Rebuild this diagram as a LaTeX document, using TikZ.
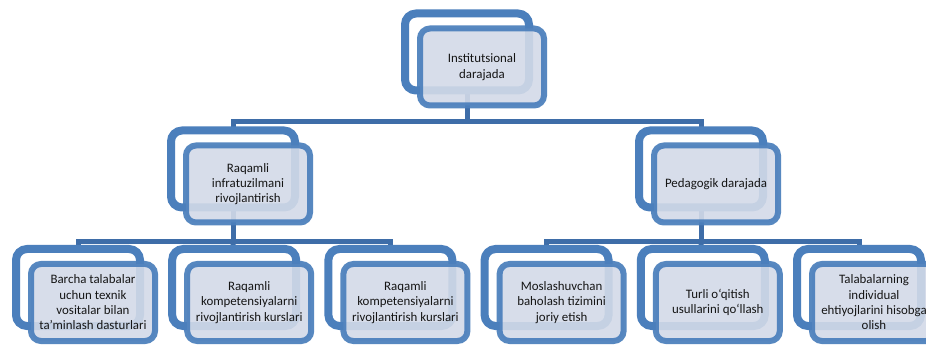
\documentclass[tikz,border=0pt]{standalone}
\usepackage{fontspec}
\setmainfont{Carlito}
\usetikzlibrary{shadows}
\definecolor{framec}{HTML}{4B7FBC}
\definecolor{boxfillc}{HTML}{D3DAE8}
\definecolor{connc}{HTML}{3E6DA8}
\definecolor{txtc}{HTML}{151515}
\tikzset{
  backbox/.style={draw=framec, line width=8pt, fill=white, rounded corners=11pt,
    minimum width=124pt, minimum height=77pt, inner sep=0pt,
    drop shadow={opacity=0.22, shadow xshift=-1.5pt, shadow yshift=-2.5pt}},
  frontbox/.style={draw=framec, draw opacity=0.93, line width=6pt, fill=boxfillc, fill opacity=0.9,
    text opacity=1, text=txtc, rounded corners=10pt,
    minimum width=124pt, minimum height=77pt, inner sep=2pt, align=center,
    font=\fontsize{12.9}{15.3}\selectfont},
  conn/.style={draw=connc, line width=5pt}
}
\begin{document}
\begin{tikzpicture}[x=1pt,y=-1pt]
\clip (0,0) rectangle (926,347);
\fill[white] (0,0) rectangle (926,347);
% back frames positions
\coordinate (p1) at (467,52);
\coordinate (p2a) at (233,169);
\coordinate (p2b) at (701,169);
\coordinate (p3a) at (78,287.5);
\coordinate (p3b) at (234.2,287.5);
\coordinate (p3c) at (390.4,287.5);
\coordinate (p3d) at (546.6,287.5);
\coordinate (p3e) at (702.8,287.5);
\coordinate (p3f) at (859,287.5);
\coordinate (j1) at (467,122);
\coordinate (j2a) at (233,242);
\coordinate (j2b) at (701,242);
% connectors
\draw[conn] (p1) -- (j1);
\draw[conn] (p2a) |- (j1) -| (p2b);
\draw[conn] (p2a) -- (j2a);
\draw[conn] (p2b) -- (j2b);
\draw[conn] (p3a) |- (j2a) -| (p3c);
\draw[conn] (p3b) -- (j2a);
\draw[conn] (p3d) |- (j2b) -| (p3f);
\draw[conn] (p3e) -- (j2b);
% back frames
\node[backbox] (b1) at (p1) {};
\node[backbox] (b2a) at (p2a) {};
\node[backbox] (b2b) at (p2b) {};
\node[backbox] (b3a) at (p3a) {};
\node[backbox] (b3b) at (p3b) {};
\node[backbox] (b3c) at (p3c) {};
\node[backbox] (b3d) at (p3d) {};
\node[backbox] (b3e) at (p3e) {};
\node[backbox] (b3f) at (p3f) {};
% front boxes
\node[frontbox] (f1) at ([shift={(15,15)}]p1) {Institutsional\\darajada};
\node[frontbox] (f2a) at ([shift={(15,15)}]p2a) {Raqamli\\infratuzilmani\\rivojlantirish};
\node[frontbox] (f2b) at ([shift={(15,15)}]p2b) {Pedagogik darajada};
\node[frontbox] (f3a) at ([shift={(15,15)}]p3a) {Barcha talabalar\\uchun texnik\\vositalar bilan\\ta’minlash dasturlari};
\node[frontbox] (f3b) at ([shift={(15,15)}]p3b) {Raqamli\\kompetensiyalarni\\rivojlantirish kurslari};
\node[frontbox] (f3c) at ([shift={(15,15)}]p3c) {Raqamli\\kompetensiyalarni\\rivojlantirish kurslari};
\node[frontbox] (f3d) at ([shift={(15,15)}]p3d) {Moslashuvchan\\baholash tizimini\\joriy etish};
\node[frontbox] (f3e) at ([shift={(15,15)}]p3e) {Turli o‘qitish\\usullarini qo‘llash};
\node[frontbox] (f3f) at ([shift={(15,15)}]p3f) {Talabalarning\\individual\\ehtiyojlarini hisobga\\olish};
\end{tikzpicture}
\end{document}
